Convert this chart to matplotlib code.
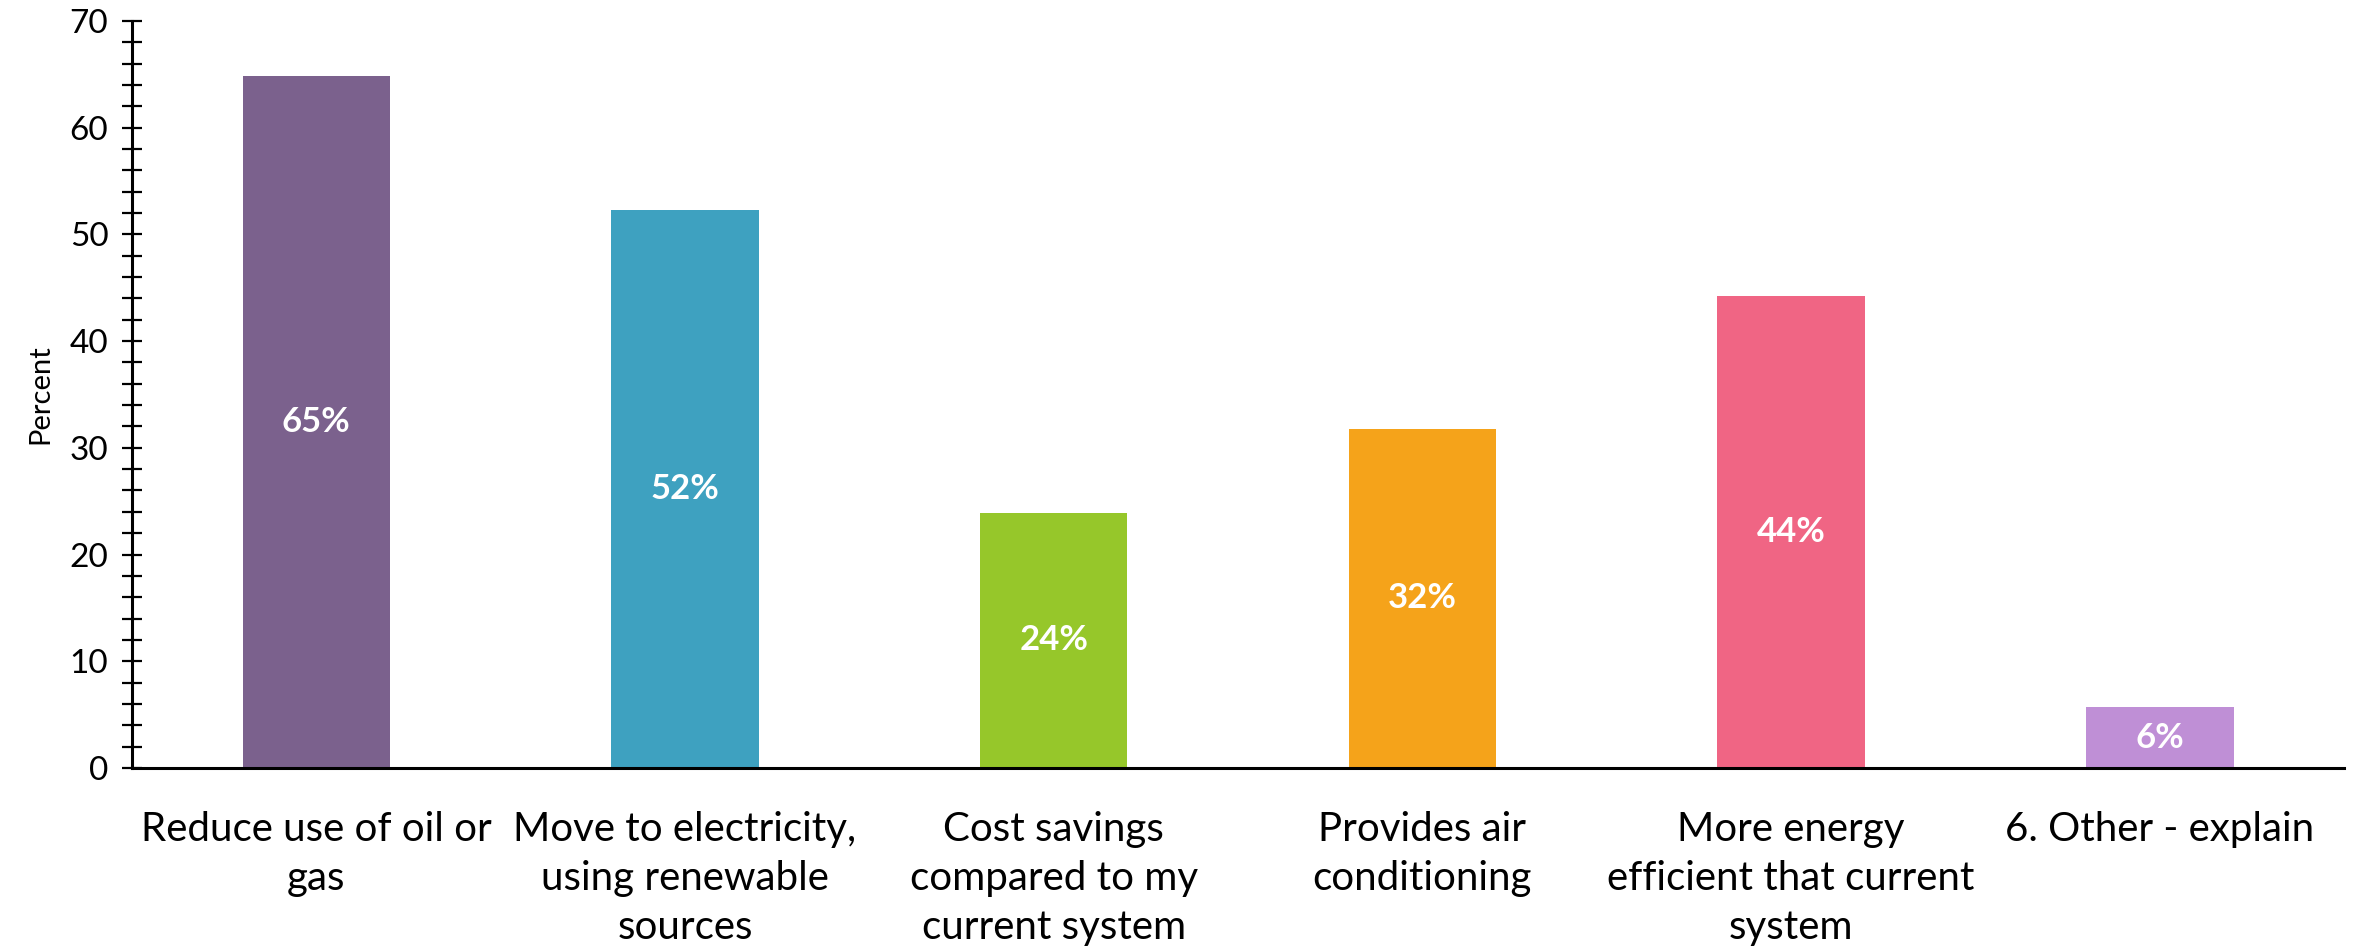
import matplotlib
matplotlib.use("Agg")
import matplotlib.pyplot as plt
from matplotlib.ticker import MultipleLocator

categories = ["Reduce use of oil or\ngas", "Move to electricity,\nusing renewable\nsources",
              "Cost savings\ncompared to my\ncurrent system", "Provides air\nconditioning",
              "More energy\nefficient that current\nsystem", "6. Other - explain"]
values = [64.8, 52.3, 23.9, 31.8, 44.2, 5.7]
labels = ["65%", "52%", "24%", "32%", "44%", "6%"]
colors = ["#7B618D", "#3EA1C0", "#96C72A", "#F5A31A", "#F06584", "#BF8FD6"]

plt.rcParams['font.family'] = ['Lato', 'DejaVu Sans']

fig = plt.figure(figsize=(23.56, 9.47), dpi=100)
ax = fig.add_axes([0.056, 0.189, 0.939, 0.789])
x = list(range(len(categories)))
bars = ax.bar(x, values, width=0.4, color=colors)
for xi, v, lab in zip(x, values, labels):
    ax.text(xi, v / 2, lab, ha='center', va='center', color='white',
            fontsize=25, fontweight='bold')

ax.set_xlim(-0.5, 5.5)
ax.set_ylim(0, 70)
ax.yaxis.set_major_locator(MultipleLocator(10))
ax.yaxis.set_minor_locator(MultipleLocator(2))
ax.tick_params(axis='y', which='both', direction='inout', length=14, width=1.6, labelsize=24, pad=10)
ax.tick_params(axis='x', length=0, labelsize=29, pad=31)
ax.set_xticks(x)
ax.set_xticklabels(categories, linespacing=1.4)
for s in ['top', 'right']:
    ax.spines[s].set_visible(False)
for s in ['left', 'bottom']:
    ax.spines[s].set_linewidth(2.2)
ax.set_ylabel("Percent", fontsize=21, labelpad=12)

fig.savefig("out.png", dpi=100)
